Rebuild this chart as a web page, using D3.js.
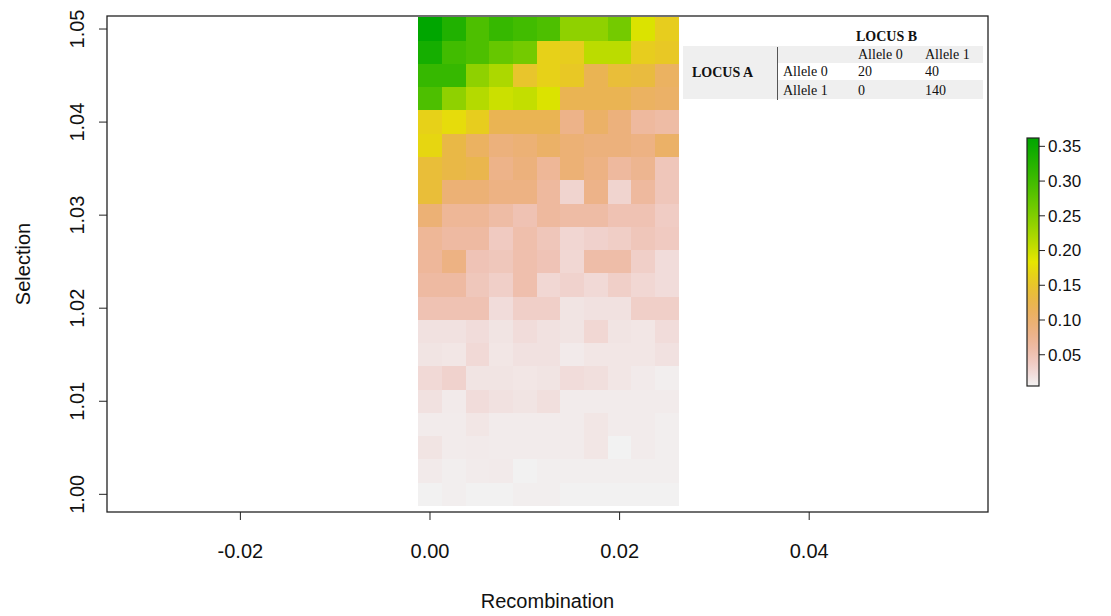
<!DOCTYPE html>
<html>
<head>
<meta charset="utf-8">
<title>Recombination vs Selection</title>
<script src="https://d3js.org/d3.v7.min.js"></script>
<style>
  body { margin: 0; background: #fff; }
  svg { display: block; }
  .ax text { font-family: "Liberation Sans", Arial, sans-serif; font-size: 20px; fill: #111; }
  .lg text { font-family: "Liberation Sans", Arial, sans-serif; font-size: 17px; fill: #111; }
  .tbl text { font-family: "Liberation Serif", "Times New Roman", serif; font-size: 14px; fill: #111; }
</style>
</head>
<body>
<svg width="1111" height="616"></svg>
<script>
// recombination rate of each column, selection coefficient of each row (top to bottom)
var recombination = [0, 0.0025, 0.005, 0.0075, 0.01, 0.0125, 0.015, 0.0175, 0.02, 0.0225, 0.025];
var selection = [1.05, 1.0475, 1.045, 1.0425, 1.04, 1.0375, 1.035, 1.0325, 1.03, 1.0275, 1.025,
                 1.0225, 1.02, 1.0175, 1.015, 1.0125, 1.01, 1.0075, 1.005, 1.0025, 1.00];
// one row of values per selection level
var values = [
  [0.362, 0.33, 0.29, 0.31, 0.30, 0.29, 0.24, 0.24, 0.26, 0.19, 0.16],
  [0.34, 0.30, 0.29, 0.27, 0.26, 0.165, 0.16, 0.21, 0.21, 0.16, 0.155],
  [0.31, 0.31, 0.24, 0.22, 0.15, 0.165, 0.155, 0.12, 0.14, 0.135, 0.11],
  [0.29, 0.24, 0.215, 0.20, 0.205, 0.19, 0.12, 0.12, 0.12, 0.11, 0.105],
  [0.165, 0.175, 0.16, 0.12, 0.12, 0.12, 0.08, 0.105, 0.09, 0.065, 0.06],
  [0.17, 0.13, 0.11, 0.09, 0.095, 0.105, 0.095, 0.09, 0.09, 0.085, 0.105],
  [0.14, 0.13, 0.125, 0.08, 0.09, 0.07, 0.095, 0.085, 0.065, 0.075, 0.045],
  [0.14, 0.095, 0.095, 0.085, 0.085, 0.065, 0.03, 0.08, 0.03, 0.065, 0.045],
  [0.095, 0.07, 0.07, 0.06, 0.05, 0.065, 0.06, 0.06, 0.05, 0.05, 0.038],
  [0.07, 0.062, 0.062, 0.04, 0.055, 0.045, 0.028, 0.032, 0.036, 0.045, 0.04],
  [0.068, 0.085, 0.048, 0.044, 0.054, 0.048, 0.027, 0.058, 0.058, 0.035, 0.022],
  [0.062, 0.062, 0.044, 0.035, 0.054, 0.027, 0.031, 0.025, 0.035, 0.027, 0.022],
  [0.05, 0.05, 0.05, 0.022, 0.035, 0.035, 0.016, 0.018, 0.018, 0.035, 0.035],
  [0.018, 0.018, 0.022, 0.016, 0.022, 0.018, 0.016, 0.027, 0.016, 0.014, 0.022],
  [0.016, 0.014, 0.025, 0.014, 0.018, 0.018, 0.011, 0.014, 0.014, 0.014, 0.018],
  [0.025, 0.031, 0.016, 0.016, 0.014, 0.016, 0.022, 0.02, 0.014, 0.011, 0.008],
  [0.018, 0.011, 0.022, 0.018, 0.016, 0.02, 0.01, 0.01, 0.01, 0.01, 0.01],
  [0.01, 0.01, 0.014, 0.01, 0.01, 0.01, 0.01, 0.014, 0.01, 0.01, 0.008],
  [0.016, 0.01, 0.011, 0.01, 0.01, 0.01, 0.01, 0.014, 0.005, 0.01, 0.008],
  [0.011, 0.008, 0.01, 0.011, 0.006, 0.008, 0.008, 0.008, 0.008, 0.008, 0.008],
  [0.006, 0.008, 0.006, 0.006, 0.008, 0.008, 0.006, 0.006, 0.006, 0.006, 0.006]
];
var xTicks = [-0.02, 0, 0.02, 0.04];
var yTicks = [1.00, 1.01, 1.02, 1.03, 1.04, 1.05];
var legendTicks = [0.05, 0.10, 0.15, 0.20, 0.25, 0.30, 0.35];

// small table drawn in the corner
var tableTitleCol = "LOCUS B";
var tableTitleRow = "LOCUS A";
var tableCols = ["Allele 0", "Allele 1"];
var tableRows = ["Allele 0", "Allele 1"];
var tableValues = [[20, 40], [0, 140]];

var svg = d3.select("svg");
var pLeft = 107, pRight = 988, pTop = 16, pBottom = 512;

var x = d3.scaleLinear().domain([-0.03407, 0.05886]).range([pLeft, pRight]);
var y = d3.scaleLinear().domain([0.9981, 1.0514]).range([pBottom, pTop]);
var fmt = function (d) { return d3.format(".2f")(d).replace("\u2212", "-"); };

// reversed terrain.colors from R
function hsv(h, s, v) {
  var i = Math.floor(h * 6), f = h * 6 - i;
  var p = v * (1 - s), q = v * (1 - f * s), t = v * (1 - (1 - f) * s);
  var r, g, b;
  switch (((i % 6) + 6) % 6) {
    case 0: r = v; g = t; b = p; break;
    case 1: r = q; g = v; b = p; break;
    case 2: r = p; g = v; b = t; break;
    case 3: r = p; g = q; b = v; break;
    case 4: r = t; g = p; b = v; break;
    default: r = v; g = p; b = q;
  }
  return d3.rgb(r * 255, g * 255, b * 255).toString();
}
function terrain(u) {
  if (u <= 0.5) {
    var a = u / 0.5;
    return hsv(4 / 12 - a * 2 / 12, 1, 0.65 + a * 0.25);
  }
  var b = (u - 0.5) / 0.5;
  return hsv(2 / 12 - b * 2 / 12, 1 - b, 0.9 + b * 0.05);
}
var vmin = d3.min(values, function (r) { return d3.min(r); });
var vmax = d3.max(values, function (r) { return d3.max(r); });
var color = function (v) { return terrain(1 - (v - vmin) / (vmax - vmin)); };

var cells = [];
selection.forEach(function (s, i) {
  recombination.forEach(function (r, j) {
    cells.push({ r: r, s: s, v: values[i][j] });
  });
});

var halfX = 0.00125, halfY = 0.00125;
svg.append("g").selectAll("rect")
  .data(cells)
  .enter()
  .append("rect")
  .attr("x", function (d) { return x(d.r - halfX); })
  .attr("y", function (d) { return y(d.s + halfY); })
  .attr("width", function (d) { return x(d.r + halfX) - x(d.r - halfX); })
  .attr("height", function (d) { return y(d.s - halfY) - y(d.s + halfY); })
  .attr("fill", function (d) { return color(d.v); })
  .attr("shape-rendering", "crispEdges");

// frame
svg.append("rect")
  .attr("x", pLeft).attr("y", pTop)
  .attr("width", pRight - pLeft).attr("height", pBottom - pTop)
  .attr("fill", "none").attr("stroke", "#222").attr("stroke-width", 1.3);

// x axis
var gx = svg.append("g").attr("class", "ax");
gx.selectAll("line").data(xTicks).enter().append("line")
  .attr("x1", function (d) { return x(d); }).attr("x2", function (d) { return x(d); })
  .attr("y1", pBottom).attr("y2", pBottom + 8)
  .attr("stroke", "#222");
gx.selectAll("text").data(xTicks).enter().append("text")
  .attr("x", function (d) { return x(d); })
  .attr("y", 558)
  .attr("text-anchor", "middle")
  .text(fmt);
gx.append("text")
  .attr("x", (pLeft + pRight) / 2).attr("y", 608)
  .attr("text-anchor", "middle")
  .text("Recombination");

// y axis
var gy = svg.append("g").attr("class", "ax");
gy.selectAll("line").data(yTicks).enter().append("line")
  .attr("y1", function (d) { return y(d); }).attr("y2", function (d) { return y(d); })
  .attr("x1", pLeft - 8).attr("x2", pLeft)
  .attr("stroke", "#222");
gy.selectAll("text").data(yTicks).enter().append("text")
  .attr("transform", function (d) { return "translate(84," + y(d) + ") rotate(-90)"; })
  .attr("text-anchor", "middle")
  .text(fmt);
gy.append("text")
  .attr("transform", "translate(30," + (pTop + pBottom) / 2 + ") rotate(-90)")
  .attr("text-anchor", "middle")
  .text("Selection");

// legend
var lx = 1027, lw = 12, ltop = 138, lbot = 386;
var ly = d3.scaleLinear().domain([vmin, vmax]).range([lbot, ltop]);
var grad = svg.append("defs").append("linearGradient")
  .attr("id", "lg").attr("x1", 0).attr("y1", 1).attr("x2", 0).attr("y2", 0);
d3.range(0, 1.0001, 0.05).forEach(function (t) {
  grad.append("stop").attr("offset", t).attr("stop-color", color(vmin + t * (vmax - vmin)));
});
var gl = svg.append("g").attr("class", "lg");
gl.append("rect")
  .attr("x", lx).attr("y", ltop).attr("width", lw).attr("height", lbot - ltop)
  .attr("fill", "url(#lg)").attr("stroke", "#222").attr("stroke-width", 1.2);
gl.selectAll("line").data(legendTicks).enter().append("line")
  .attr("x1", lx + lw).attr("x2", lx + lw + 6)
  .attr("y1", function (d) { return ly(d); }).attr("y2", function (d) { return ly(d); })
  .attr("stroke", "#222");
gl.selectAll("text").data(legendTicks).enter().append("text")
  .attr("x", lx + lw + 9)
  .attr("y", function (d) { return ly(d); })
  .attr("dy", "0.35em")
  .text(fmt);

// table
var tb = svg.append("g").attr("class", "tbl");
var tl = 683, tr = 983, sep = 777;
var rowY = [46, 63, 80, 99];
var colX = [858, 925];
tb.append("rect").attr("x", tl).attr("y", rowY[0]).attr("width", tr - tl).attr("height", rowY[1] - rowY[0]).attr("fill", "#efefef");
tb.append("rect").attr("x", tl).attr("y", rowY[0]).attr("width", sep - tl).attr("height", rowY[3] - rowY[0]).attr("fill", "#efefef");
tb.append("rect").attr("x", tl).attr("y", rowY[2]).attr("width", tr - tl).attr("height", rowY[3] - rowY[2]).attr("fill", "#efefef");
tb.append("line").attr("x1", sep + 0.5).attr("x2", sep + 0.5).attr("y1", rowY[0] + 1).attr("y2", rowY[3] + 1)
  .attr("stroke", "#555");
tb.append("text").attr("x", colX[0] - 2).attr("y", 41).attr("font-weight", "bold").text(tableTitleCol);
tb.append("text").attr("x", tl + 9).attr("y", 77).attr("font-weight", "bold").text(tableTitleRow);
tableCols.forEach(function (c, j) {
  tb.append("text").attr("x", colX[j]).attr("y", rowY[1] - 4).text(c);
});
tableRows.forEach(function (r, i) {
  tb.append("text").attr("x", sep + 6).attr("y", rowY[i + 2] - 4).text(r);
  tableValues[i].forEach(function (v, j) {
    tb.append("text").attr("x", colX[j]).attr("y", rowY[i + 2] - 4).text(v);
  });
});
</script>
</body>
</html>
